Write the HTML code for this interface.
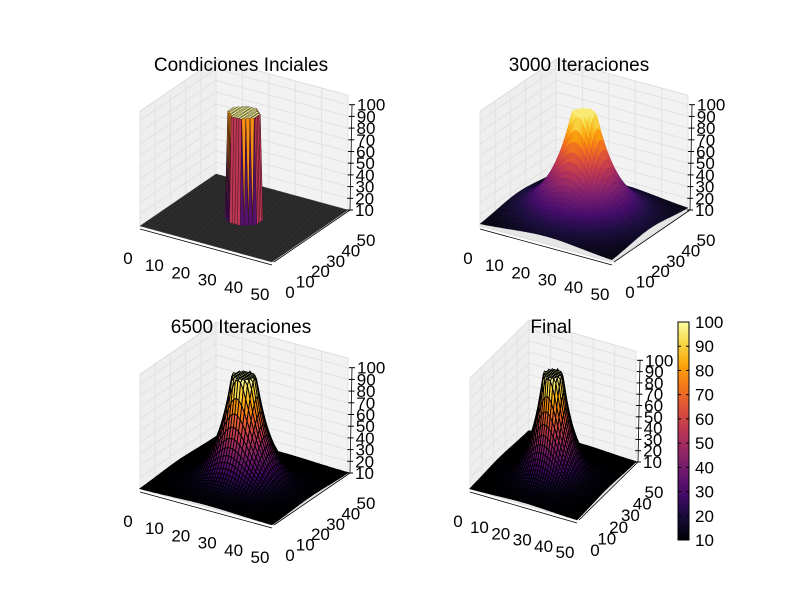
<!DOCTYPE html>
<html><head><meta charset="utf-8"><style>
body{margin:0;background:#fff}
svg text{font-family:"Liberation Sans","DejaVu Sans",sans-serif;fill:#000}
</style></head><body>
<svg id="c" width="800" height="600" xmlns="http://www.w3.org/2000/svg"></svg>
<script>
const panelTitles=["Condiciones Inciales","3000 Iteraciones","6500 Iteraciones","Final"];
const panelWidths=[0,8,5.5,5.5];
const panelPeak=[100,100,100,100];
const panelBase=[10,10,10,10];
const xTicks=[0,10,20,30,40,50];
const yTicks=[0,10,20,30,40,50];
const zTicks=[10,20,30,40,50,60,70,80,90,100];
const cbTicks=[10,20,30,40,50,60,70,80,90,100];
const P=[
 {O:[140,226],ex:[2.64,0.72],ey:[1.52,-1.04],ez:-1.17,tx:241,ty:64},
 {O:[480,226],ex:[2.64,0.72],ey:[1.52,-1.04],ez:-1.17,tx:579,ty:64},
 {O:[140,489],ex:[2.64,0.72],ey:[1.52,-1.04],ez:-1.17,tx:241,ty:326},
 {O:[470,489],ex:[2.14,0.62],ey:[1.18,-1.16],ez:-1.13,tx:551,ty:326}];
const NS="http://www.w3.org/2000/svg";
const svg=document.getElementById('c');
function el(t,a,p){const e=document.createElementNS(NS,t);for(const k in a)e.setAttribute(k,a[k]);(p||svg).appendChild(e);return e;}
const stops=[[0,0,0,4],[0.1,22,11,57],[0.2,66,10,104],[0.3,106,23,110],[0.4,147,38,103],[0.5,188,55,84],[0.6,221,81,58],[0.7,243,118,27],[0.8,252,165,10],[0.9,246,215,70],[1,252,255,164]];
function inferno(t){t=Math.max(0,Math.min(1,t));for(let i=1;i<stops.length;i++){if(t<=stops[i][0]){const a=stops[i-1],b=stops[i],f=(t-a[0])/(b[0]-a[0]);return `rgb(${Math.round(a[1]+f*(b[1]-a[1]))},${Math.round(a[2]+f*(b[2]-a[2]))},${Math.round(a[3]+f*(b[3]-a[3]))})`;}}return 'rgb(252,255,164)';}
function surf(k,x,y){const r=Math.hypot(x-25,y-25);const b=panelBase[k],pk=panelPeak[k],w=panelWidths[k];
 if(w===0)return r<5.5?pk:b; if(r<4)return pk; return b+(pk-b)*Math.exp(-(r-4)/w);}
P.forEach((p,k)=>{
 const g=el('g',{});
 const pr=(x,y,z)=>[p.O[0]+x*p.ex[0]+y*p.ey[0],p.O[1]+x*p.ex[1]+y*p.ey[1]+(z-10)*p.ez];
 const ZT=108;
 const pt=a=>a.map(q=>q[0].toFixed(1)+','+q[1].toFixed(1)).join(' ');
 el('polygon',{points:pt([pr(0,0,10),pr(0,50,10),pr(0,50,ZT),pr(0,0,ZT)]),fill:'#eeeeee',stroke:'#ddd'},g);
 el('polygon',{points:pt([pr(0,50,10),pr(50,50,10),pr(50,50,ZT),pr(0,50,ZT)]),fill:'#f2f2f2',stroke:'#ddd'},g);
 el('polygon',{points:pt([pr(0,0,10),pr(50,0,10),pr(50,50,10),pr(0,50,10)]),fill:'#e6e6e6',stroke:'#ddd'},g);
 xTicks.forEach(v=>{let a=pr(v,50,10),b=pr(v,50,ZT);el('line',{x1:a[0],y1:a[1],x2:b[0],y2:b[1],stroke:'#e2e2e2'},g);});
 yTicks.forEach(v=>{let a=pr(0,v,10),b=pr(0,v,ZT);el('line',{x1:a[0],y1:a[1],x2:b[0],y2:b[1],stroke:'#e2e2e2'},g);});
 zTicks.forEach(v=>{let a=pr(0,0,v),b=pr(0,50,v),c=pr(50,50,v);el('polyline',{points:pt([a,b,c]),fill:'none',stroke:'#e2e2e2'},g);});
 const N=50,quads=[];
 for(let i=0;i<N;i++)for(let j=0;j<N;j++){const zs=[surf(k,i,j),surf(k,i+1,j),surf(k,i+1,j+1),surf(k,i,j+1)];quads.push({i,j,zs,d:i-j});}
 quads.sort((a,b)=>a.d-b.d);
 const sg=el('g',{},g);
 quads.forEach(q=>{const {i,j,zs}=q;const zm=(zs[0]+zs[1]+zs[2]+zs[3])/4;
  let fill=inferno((zm-10)/90*(k===1?0.95:1));
  if(k===0&&zm<=10.01)fill='#383838';
  const pts=pt([pr(i,j,zs[0]),pr(i+1,j,zs[1]),pr(i+1,j+1,zs[2]),pr(i,j+1,zs[3])]);
  const stroke=k===1?fill:'#000';const sw=k===1?0.3:(k===0?0.25:0.9);
  el('polygon',{points:pts,fill:fill,stroke:stroke,'stroke-width':sw},sg);});
 let a=pr(0,0,10),b=pr(50,0,10),c=pr(50,50,10);
 el('line',{x1:a[0],y1:a[1]+3,x2:b[0],y2:b[1]+3,stroke:'#000','stroke-width':0.8},g);
 el('line',{x1:b[0]+2,y1:b[1],x2:c[0]+2,y2:c[1],stroke:'#000','stroke-width':0.8},g);
 let za=pr(50,50,10),zb=pr(50,50,100);
 el('line',{x1:za[0]+2,y1:za[1],x2:zb[0]+4,y2:zb[1],stroke:'#000','stroke-width':0.8},g);
 xTicks.forEach(v=>{const q=pr(v,0,10);const t=el('text',{x:q[0]-12,y:q[1]+38,'font-size':17,'text-anchor':'middle'},g);t.textContent=v;
  });
 yTicks.forEach(v=>{const q=pr(50,v,10);const t=el('text',{x:q[0]+18,y:q[1]+36,'font-size':17,'text-anchor':'middle'},g);t.textContent=v;
  });
 zTicks.forEach(v=>{const q=pr(50,50,v);const dx=2+2*(v-10)/90;
  el('line',{x1:q[0]+dx-3,y1:q[1],x2:q[0]+dx+3,y2:q[1],stroke:'#000'},g);
  const t=el('text',{x:q[0]+dx+5,y:q[1]+6,'font-size':17},g);t.textContent=v;
  });
 const t=el('text',{x:p.tx,y:p.ty+7,'font-size':19,'text-anchor':'middle'},g);t.textContent=panelTitles[k];
 
});
const cb=el('g',{});
const cbTop=322,cbBot=540,cbX=678,cbW=11;
const cy=v=>cbBot-(v-10)/90*(cbBot-cbTop);
for(let i=0;i<100;i++){const v0=10+90*i/100,v1=10+90*(i+1)/100;el('rect',{x:cbX,y:cy(v1),width:cbW,height:cy(v0)-cy(v1)+0.5,fill:inferno((v0-10)/90)},cb);}
el('rect',{x:cbX,y:cbTop,width:cbW,height:cbBot-cbTop,fill:'none',stroke:'#000'},cb);
cbTicks.forEach(v=>{const y=cy(v);el('line',{x1:cbX,y1:y,x2:cbX+3,y2:y,stroke:'#000'},cb);el('line',{x1:cbX+cbW-3,y1:y,x2:cbX+cbW,y2:y,stroke:'#000'},cb);
 const t=el('text',{x:cbX+cbW+6,y:y+6,'font-size':17},cb);t.textContent=v;
 });
</script>
</body></html>
